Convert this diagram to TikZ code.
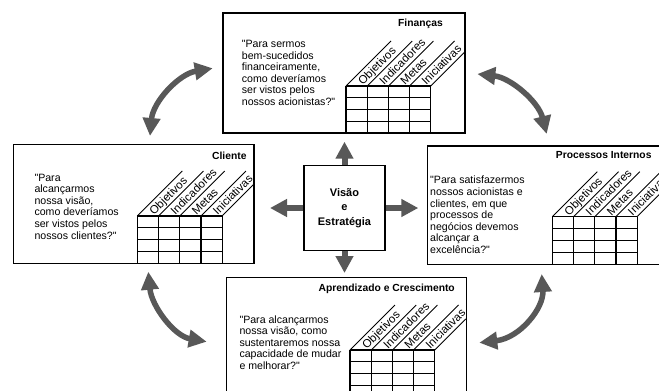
\documentclass[tikz,border=0pt]{standalone}
\usepackage{fontspec}
\setmainfont{Liberation Sans}
\usetikzlibrary{arrows.meta}
\definecolor{arrowgray}{RGB}{88,88,88}
\tikzset{
  panel/.style={draw=black, line width=1.5pt},
  gridline/.style={draw=black, line width=1.2pt},
  slant/.style={draw=black, line width=0.9pt},
  body/.style={anchor=north west, align=left, inner sep=0pt, font=\fontsize{10.6}{11.6}\selectfont},
  heading/.style={anchor=base east, inner sep=0pt, font=\bfseries\fontsize{10.3}{12}\selectfont},
  collabel/.style={rotate=45, anchor=base west, inner sep=0pt, font=\fontsize{11.5}{14}\selectfont},
  hub/.style={draw=black, line width=1.5pt, minimum width=81pt, minimum height=85pt, align=center,
    font=\bfseries\fontsize{11}{14.8}\selectfont},
  bigarrow/.style={draw=arrowgray, line width=6pt, -{Triangle[width=17pt,length=17pt]}},
  dblarrow/.style={draw=arrowgray, line width=5.5pt,
    {Triangle[width=17pt,length=18pt]}-{Triangle[width=17pt,length=18pt]}}
}
\newcommand\dq{\textquotedbl}
% Objectives / indicators / targets / initiatives table with slanted headers
% #1 name prefix, #2 left edge, #3 top, #4 bottom, #5 rise of the last slanted line
\newcommand\bsctable[5]{%
  \foreach \i in {0,...,3}{\draw[slant] ({#2+\i*21.2},#3) -- ++(45,-45);}
  \draw[slant] ({#2+84.8},#3) -- ++(#5,-#5);
  \foreach \i in {0,...,4}{\draw[gridline] ({#2+\i*21.2},#3) -- ({#2+\i*21.2},#4);}
  \foreach \j in {0,...,4}{\draw[gridline] (#2,{#3+\j*(#4-#3)/4}) -- ++(84.8,0);}
  \foreach \t [count=\k from 1] in {Objetivos,Indicadores,Metas,Iniciativas}
    {\node[collabel] (#1-\k) at ({#2+\k*21.2-4.5},{#3-0.5}) {\t};}
}
\begin{document}
\begin{tikzpicture}[x=1pt, y=-1pt]
  \clip (0,0) rectangle (659,391);
  \fill[white] (0,0) rectangle (659,391);

  % Finanças
  \draw[panel] (223,13) rectangle (465,133);
  \node[heading] (finT) at (443,26.7) {Finanças};
  \node[body] (finQ) at (241.7,40) {\dq Para sermos\\bem-sucedidos\\financeiramente,\\como deveríamos\\ser vistos pelos\\nossos acionistas?\dq};
  \bsctable{fin}{346}{86}{133}{34}

  % Cliente
  \draw[panel] (13.3,144.3) rectangle (254,263.3);
  \node[heading] (cliT) at (246.7,159) {Cliente};
  \node[body] (cliQ) at (34.3,173.7) {\dq Para\\alcançarmos\\nossa visão,\\como deveríamos\\ser vistos pelos\\nossos clientes?\dq};
  \bsctable{cli}{137.3}{216}{263.3}{32}

  % Processos Internos
  \draw[panel] (427.3,146) rectangle (672,264.3);
  \node[heading] (proT) at (651.7,158.3) {Processos Internos};
  \node[body] (proQ) at (430,176) {\dq Para satisfazermos\\nossos acionistas e\\clientes, em que\\processos de\\negócios devemos\\alcançar a\\excelência?\dq};
  \bsctable{pro}{552.3}{216.7}{264.3}{45}

  % Aprendizado e Crescimento
  \draw[panel] (226.7,277.3) rectangle (466.7,397);
  \node[heading] (aprT) at (455,291.7) {Aprendizado e Crescimento};
  \node[body] (aprQ) at (239.3,315.3) {\dq Para alcançarmos\\nossa visão, como\\sustentaremos nossa\\capacidade de mudar\\e melhorar?\dq};
  \bsctable{apr}{350}{350}{397}{31}

  % Visão e Estratégia hub with its four arrows
  \node[hub] (vis) at (344.5,208) {Visão\\e\\Estratégia};
  \coordinate (upTip) at (344.5,141.7);
  \coordinate (dnTip) at (344.5,273);
  \coordinate (rtTip) at (418.3,208);
  \coordinate (lfTip) at (270,208);
  \draw[bigarrow] (vis.north) -- (upTip);
  \draw[bigarrow] (vis.south) -- (dnTip);
  \draw[bigarrow] (vis.east) -- (rtTip);
  \draw[bigarrow] (vis.west) -- (lfTip);

  % curved two-way arrows between the perspectives
  \coordinate (tl1) at (150,136);     \coordinate (tl2) at (212.7,68.3);
  \coordinate (tr1) at (477.3,74);    \coordinate (tr2) at (546.7,134);
  \coordinate (bl1) at (148.3,271.7); \coordinate (bl2) at (206.7,341.7);
  \coordinate (br1) at (541.7,274);   \coordinate (br2) at (479.3,342.7);
  \draw[dblarrow] (tl1) .. controls (153,101.7) and (178.8,74) .. (tl2);
  \draw[dblarrow] (tr1) .. controls (510.6,77.6) and (538.4,101.6) .. (tr2);
  \draw[dblarrow] (bl1) .. controls (151.5,306) and (174,336) .. (bl2);
  \draw[dblarrow] (br1) .. controls (544,308) and (520,338) .. (br2);
\end{tikzpicture}
\end{document}
